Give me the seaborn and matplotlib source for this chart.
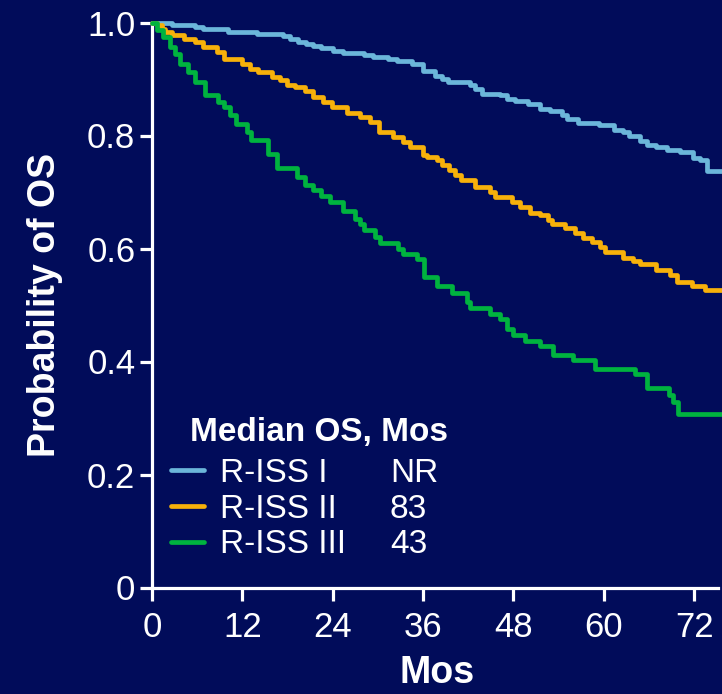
import numpy as np
import pandas as pd
import matplotlib
matplotlib.use("Agg")
import matplotlib.pyplot as plt
import seaborn as sns

# ---------------- data ----------------
groups = ["R-ISS I", "R-ISS II", "R-ISS III"]
medians = ["NR", "83", "43"]
colors = ["#6bb6da", "#f7b10a", "#00b33f"]

t_iss1 = [0, 2.6, 5.7, 6.8, 10.1, 13.9, 17.4, 18.3, 19.4, 20.5, 21.4, 22.5, 24.1, 25.4,
          28.1, 29.4, 31.4, 32.5, 34.5, 36.0, 37.6, 38.5, 39.3, 42.2, 42.9, 43.8, 46.2,
          47.1, 48.2, 50.0, 51.5, 52.9, 54.4, 55.1, 56.6, 59.3, 61.3, 62.6, 63.3, 64.8,
          65.7, 67.0, 68.4, 70.1, 71.9, 72.8, 73.7, 75.7]
s_iss1 = [1.0, 0.995, 0.992, 0.988, 0.984, 0.980, 0.976, 0.971, 0.965, 0.962, 0.958,
          0.954, 0.949, 0.946, 0.943, 0.939, 0.935, 0.931, 0.927, 0.915, 0.906, 0.900,
          0.895, 0.889, 0.883, 0.874, 0.871, 0.865, 0.861, 0.856, 0.847, 0.843, 0.836,
          0.829, 0.823, 0.819, 0.809, 0.806, 0.799, 0.790, 0.784, 0.779, 0.775, 0.770,
          0.761, 0.756, 0.737, 0.737]

t_iss2 = [0, 0.6, 1.3, 1.7, 2.6, 4.2, 5.7, 6.8, 8.6, 9.5, 11.9, 13.0, 14.1, 15.9, 17.0,
          17.9, 19.0, 20.3, 21.4, 22.7, 23.9, 25.9, 27.6, 29.0, 30.1, 32.0, 33.4, 34.3,
          36.0, 36.5, 37.8, 38.5, 39.4, 40.2, 41.1, 42.9, 44.9, 45.6, 47.8, 48.9, 50.2,
          51.5, 52.6, 53.1, 54.8, 56.2, 57.3, 58.4, 59.5, 60.2, 62.6, 63.9, 64.8, 67.0,
          68.8, 69.7, 71.7, 73.4, 75.7]
s_iss2 = [1.0, 0.995, 0.989, 0.983, 0.978, 0.971, 0.965, 0.956, 0.948, 0.936, 0.927,
          0.918, 0.912, 0.903, 0.898, 0.890, 0.885, 0.878, 0.868, 0.859, 0.850, 0.840,
          0.833, 0.824, 0.806, 0.797, 0.789, 0.780, 0.766, 0.762, 0.756, 0.747, 0.739,
          0.730, 0.721, 0.709, 0.700, 0.691, 0.683, 0.674, 0.662, 0.659, 0.650, 0.643,
          0.636, 0.627, 0.618, 0.612, 0.603, 0.593, 0.583, 0.578, 0.572, 0.562, 0.553,
          0.541, 0.534, 0.527, 0.527]

t_iss3 = [0, 0.6, 1.5, 2.4, 3.1, 3.7, 4.8, 5.7, 7.0, 8.8, 9.5, 10.4, 11.2, 12.6, 13.2,
          15.4, 16.6, 19.2, 20.3, 21.4, 22.5, 23.6, 25.4, 27.0, 27.6, 28.1, 29.6, 30.3,
          32.7, 33.4, 35.2, 36.1, 37.8, 39.8, 41.8, 42.2, 44.9, 46.2, 47.1, 48.0, 49.5,
          51.5, 53.3, 55.9, 58.8, 64.1, 65.7, 68.6, 69.2, 69.9, 75.7]
s_iss3 = [1.0, 0.986, 0.974, 0.956, 0.945, 0.927, 0.912, 0.895, 0.871, 0.859, 0.850,
          0.836, 0.821, 0.806, 0.792, 0.768, 0.742, 0.727, 0.713, 0.703, 0.693, 0.682,
          0.666, 0.653, 0.643, 0.632, 0.621, 0.610, 0.600, 0.591, 0.581, 0.550, 0.534,
          0.521, 0.506, 0.494, 0.484, 0.476, 0.457, 0.447, 0.437, 0.428, 0.412, 0.403,
          0.386, 0.378, 0.353, 0.341, 0.329, 0.307, 0.307]

x_ticks = [0, 12, 24, 36, 48, 60, 72]
y_ticks = [0, 0.2, 0.4, 0.6, 0.8, 1.0]
y_tick_labels = ["0", "0.2", "0.4", "0.6", "0.8", "1.0"]

df = pd.concat([
    pd.DataFrame({"time": t_iss1, "surv": s_iss1, "group": groups[0]}),
    pd.DataFrame({"time": t_iss2, "surv": s_iss2, "group": groups[1]}),
    pd.DataFrame({"time": t_iss3, "surv": s_iss3, "group": groups[2]}),
], ignore_index=True)

# ---------------- style ----------------
BG = "#010c5a"
sns.set_style("ticks")
plt.rcParams["font.family"] = ["Liberation Sans", "DejaVu Sans"]

W, H = 722, 694
fig = plt.figure(figsize=(W / 100, H / 100), dpi=100, facecolor=BG)
ax = fig.add_axes([152 / W, 106.5 / H, (W - 152) / W, 565 / H])
ax.set_facecolor(BG)

sns.lineplot(data=df, x="time", y="surv", hue="group", hue_order=groups,
             palette=colors, estimator=None, sort=False, drawstyle="steps-post",
             linewidth=3.4, clip_on=False, legend=False, ax=ax)

ax.set_xlim(0, 75.7)
ax.set_ylim(0, 1.0)
ax.set_xticks(x_ticks)
ax.set_xticklabels([str(v) for v in x_ticks])
ax.set_yticks(y_ticks)
ax.set_yticklabels(y_tick_labels)

for s in ["top", "right"]:
    ax.spines[s].set_visible(False)
for s in ["left", "bottom"]:
    ax.spines[s].set_color("white")
    ax.spines[s].set_linewidth(2.3)
    ax.spines[s].set_zorder(1)
ax.spines["bottom"].set_bounds(0, 75.2)

ax.tick_params(axis="both", colors="white", labelcolor="white", length=9, width=2.3,
               direction="out", labelsize=25)
ax.tick_params(axis="y", pad=3)
ax.tick_params(axis="x", pad=8)

ax.set_xlabel("Mos", color="white", fontsize=27, fontweight="bold", labelpad=8)
ax.set_ylabel("Probability of OS", color="white", fontsize=27, fontweight="bold",
              labelpad=17)

# ---------------- legend ----------------
lines = ax.get_lines()[:3]
leg = fig.legend(lines, groups, loc="upper left",
                 bbox_to_anchor=(171 / W, 1 - 458 / H), bbox_transform=fig.transFigure,
                 frameon=False, fontsize=24, handlelength=0.98, handletextpad=0.48,
                 labelspacing=0.14, borderpad=0, borderaxespad=0)
for t in leg.get_texts():
    t.set_color("white")
for h in leg.legend_handles:
    h.set_linewidth(3.4)

fig.text(190 / W, 1 - 432 / H, "Median OS, Mos", color="white", fontsize=24,
         fontweight="bold", va="center", ha="left")

fig.canvas.draw()
renderer = fig.canvas.get_renderer()
for t, m in zip(leg.get_texts(), medians):
    bb = t.get_window_extent(renderer)
    yc = (bb.y0 + bb.y1) / 2
    fig.text(390 / W, yc / H, m, color="white", fontsize=24, va="center", ha="left")

fig.savefig("out.png", dpi=100, facecolor=BG)
